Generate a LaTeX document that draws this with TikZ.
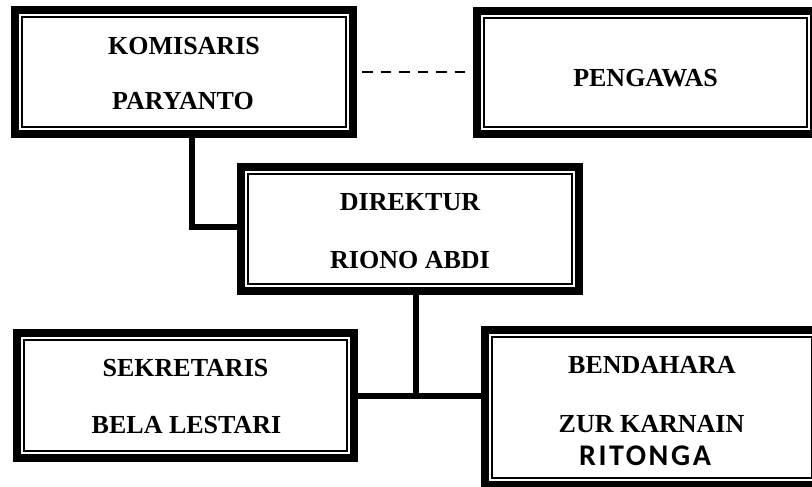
\documentclass[tikz,border=0pt]{standalone}
\usepackage{fontspec}
\setmainfont{Liberation Serif}
\newfontfamily\calfont[LetterSpace=8.7]{Carlito}
\begin{document}
\begin{tikzpicture}[x=1pt,y=-1pt,
  orgbox/.style={draw, line width=8pt, rectangle, inner sep=0pt, outer sep=0pt, fill=white},
  innerline/.style={draw, line width=1.8pt},
  conn/.style={draw, line width=6pt, line join=miter},
  dashconn/.style={draw, line width=2.8pt, dash pattern=on 10.5pt off 8pt},
  lbl/.style={anchor=base, inner sep=0pt, font=\bfseries\fontsize{26}{30}\selectfont},
  lblsans/.style={anchor=base, inner sep=0pt, font=\calfont\bfseries\fontsize{30}{34}\selectfont}]
\clip (0,0) rectangle (812,487);
\fill[white] (0,0) rectangle (812,487);

% boxes
\node[orgbox, minimum width=338pt, minimum height=124pt] (kom) at (184,72) {};
\node[orgbox, minimum width=337pt, minimum height=123pt] (peng) at (645.5,72.5) {};
\node[orgbox, minimum width=338pt, minimum height=124pt] (dir) at (410,229) {};
\node[orgbox, minimum width=337pt, minimum height=125pt] (sek) at (185.5,395.5) {};
\node[orgbox, minimum width=334pt, minimum height=155pt] (bend) at (652,407.5) {};

\foreach \b in {kom,peng,dir,sek,bend}{
  \draw[innerline] ([shift={(7pt,7pt)}]\b.south west) rectangle ([shift={(-7pt,-7pt)}]\b.north east);
}

% connectors
\draw[conn] ([xshift=7.5pt]kom.south) |- ([yshift=2.5pt]dir.west);
\draw[conn] ([xshift=5.5pt]dir.south) -- ([xshift=5.5pt]dir.south |- sek.east);
\draw[conn] (sek.east) -- (sek.east -| bend.west);
\draw[dashconn, shorten <=9pt, shorten >=12pt] (kom.east) -- (kom.east -| peng.west);

% texts
\node[lbl] (t1) at (184,55) {KOMISARIS};
\node[lbl] (t2) at (183,110) {PARYANTO};
\node[lbl] (t3) at (645.5,87) {PENGAWAS};
\node[lbl] (t4) at (410,210) {DIREKTUR};
\node[lbl] (t5) at (410,268) {RIONO ABDI};
\node[lbl] (t6) at (185.5,376) {SEKRETARIS};
\node[lbl] (t7) at (186.5,433) {BELA LESTARI};
\node[lbl] (t8) at (652,373.5) {BENDAHARA};
\node[lbl] (t9) at (651.5,432) {ZUR KARNAIN};
\node[lblsans] (t10) at (645,465) {RITONGA};
\end{tikzpicture}
\end{document}
